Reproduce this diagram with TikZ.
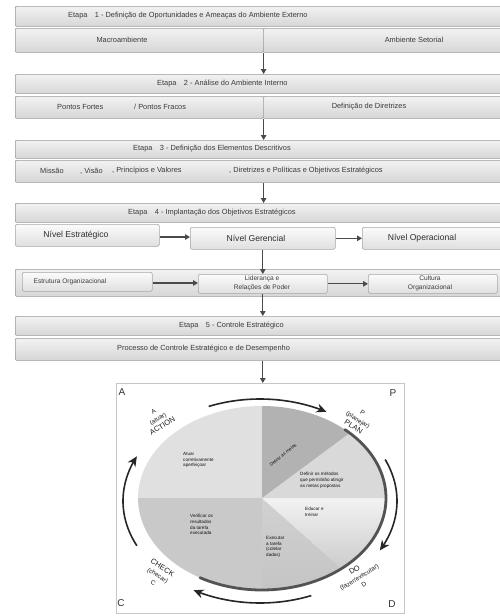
\documentclass[tikz,border=0pt]{standalone}
\usepackage{fontspec}
\setmainfont{Liberation Sans}
\usetikzlibrary{arrows.meta}
\definecolor{txtc}{HTML}{3A3A3A}
\definecolor{arrc}{HTML}{4A4A4A}
\tikzset{
  bar/.style={draw=gray!80, line width=0.6pt, top color=gray!10, bottom color=gray!32, rounded corners=1pt, inner sep=0pt, anchor=north west},
  ibox/.style={draw=gray!70, line width=0.6pt, top color=gray!3, bottom color=gray!25, rounded corners=2pt, inner sep=0pt, anchor=north west},
  txt/.style={font=\fontsize{7.4}{8.5}\selectfont, text=txtc, inner sep=0pt},
  ntxt/.style={font=\fontsize{8.6}{10}\selectfont, text=txtc!80!black, inner sep=0pt},
  stxt/.style={font=\fontsize{6.6}{8.5}\selectfont, text=txtc, inner sep=0pt, align=center},
  arr/.style={draw=arrc, line width=1.3pt, -{Triangle[length=5pt,width=5.5pt]}},
  cyc/.style={draw=gray!30!black, line width=1.6pt, -{Stealth[length=10pt,width=9pt]}},
  pdca/.style={font=\fontsize{10}{10}\selectfont, text=gray!40!black, inner sep=0pt},
  clbl/.style={font=\fontsize{6.3}{8.6}\selectfont, text=gray!25!black, align=center, inner sep=0pt},
  slc/.style={font=\fontsize{4.6}{5.8}\selectfont, text=gray!15!black, align=left, inner sep=0pt, anchor=north west},
}
\begin{document}
\begin{tikzpicture}[x=1pt,y=-1pt]
\useasboundingbox (0,0) rectangle (500,616);
\fill[white] (0,0) rectangle (500,616);
% Stage 1
\node[bar, minimum width=490, minimum height=20] (h1) at (15,6) {};
\node[txt, anchor=west] (t1) at (68,16) {Etapa\quad 1 - Definição de Oportunidades e Ameaças do Ambiente Externo};
\node[bar, minimum width=248, minimum height=24] (r1a) at (15,28) {};
\node[bar, minimum width=242, minimum height=24] (r1b) at (263,28) {};
\node[txt] (t1a) at (122,40) {Macroambiente};
\node[txt] (t1b) at (414,40) {Ambiente Setorial};
\draw[arr] (r1a.south east) -- (r1a.south east |- 0,74);
% Stage 2
\node[bar, minimum width=490, minimum height=19] (h2) at (15,74) {};
\node[txt, anchor=west] (t2) at (157,83.5) {Etapa\quad 2 - Análise do Ambiente Interno};
\node[bar, minimum width=248, minimum height=22] (r2a) at (15,96) {};
\node[bar, minimum width=242, minimum height=22] (r2b) at (263,96) {};
\node[txt, anchor=west] (t2a) at (57,107) {Pontos Fortes};
\node[txt, anchor=west] (t2b) at (134,107) {/ Pontos Fracos};
\node[txt] (t2c) at (369,107) {Definição de Diretrizes};
\draw[arr] (r2a.south east) -- (r2a.south east |- 0,140);
% Stage 3
\node[bar, minimum width=490, minimum height=18] (h3) at (15,140) {};
\node[txt, anchor=west] (t3) at (133,149) {Etapa\quad 3 - Definição dos Elementos Descritivos};
\node[bar, minimum width=490, minimum height=22] (r3) at (15,160) {};
\node[txt, anchor=west] (t3a) at (40,171) {Missão};
\node[txt, anchor=west] (t3b) at (80,171) {, Visão};
\node[txt, anchor=west] (t3c) at (112,171) {, Princípios e Valores};
\node[txt, anchor=west] (t3d) at (229,171) {, Diretrizes e Políticas e Objetivos Estratégicos};
\draw[arr] (r3.south -| r1a.east) -- (r1a.east |- 0,203);
% Stage 4
\node[bar, minimum width=490, minimum height=19] (h4) at (15,203) {};
\node[txt, anchor=west] (t4) at (128,212.5) {Etapa\quad 4 - Implantação dos Objetivos Estratégicos};
\node[ibox, minimum width=144, minimum height=22] (ne) at (15,224) {};
\node[ibox, minimum width=145, minimum height=22] (ng) at (190,227) {};
\node[ibox, minimum width=145, minimum height=22] (no) at (362,227) {};
\node[ntxt] (tne) at (76,235) {Nível Estratégico};
\node[ntxt] (tng) at (256,238) {Nível Gerencial};
\node[ntxt] (tno) at (422,238) {Nível Operacional};
\draw[arr] (ne.east |- 0,237) -- (ng.west |- 0,237);
\draw[arr] (ng.east) -- (no.west);
\node[bar, minimum width=490, minimum height=27] (o4) at (15,269) {};
\node[ibox, minimum width=130, minimum height=19] (eo) at (22,272) {};
\node[ibox, minimum width=129, minimum height=19] (lid) at (198,274) {};
\node[ibox, minimum width=129, minimum height=19] (cult) at (368,274) {};
\node[stxt] (teo) at (70,281.5) {Estrutura Organizacional};
\node[stxt] (tlid) at (262,283.5) {Liderança e\\Relações de Poder};
\node[stxt] (tcult) at (430,283.5) {Cultura\\Organizacional};
\draw[arr] (ng.south -| lid.north) -- (lid.north);
\draw[arr] (eo.east |- 0,283) -- (lid.west |- 0,283);
\draw[arr] (lid.east) -- (cult.west);
% Stage 5
\node[bar, minimum width=490, minimum height=19] (h5) at (15,316) {};
\draw[arr] (lid.south) -- (lid.south |- h5.north);
\node[txt, anchor=west] (t5) at (179,325.5) {Etapa\quad 5 - Controle Estratégico};
\node[bar, minimum width=490, minimum height=22] (r5) at (15,338) {};
\node[txt, anchor=west] (t5a) at (117,349) {Processo de Controle Estratégico e de Desempenho};
% PDCA frame
\node[draw=gray!45, line width=0.6pt, minimum width=288, minimum height=230, inner sep=0pt, anchor=north west] (frame) at (116,383) {};
\draw[arr] (r5.south -| lid.south) -- (frame.north -| lid.south);
% pie
\coordinate (pc) at (262,498);
\fill[fill=gray!24] (pc) -- plot[domain=90:180,samples=40] ({262+124*cos(\x)},{498-92*sin(\x)}) -- cycle;
\fill[fill=gray!42] (pc) -- plot[domain=180:270,samples=40] ({262+124*cos(\x)},{498-92*sin(\x)}) -- cycle;
\shade[top color=gray!36, bottom color=gray!46] (pc) -- plot[domain=270:310,samples=30] ({262+124*cos(\x)},{498-92*sin(\x)}) -- cycle;
\shade[top color=gray!10, bottom color=gray!40] (pc) -- plot[domain=-50:0,samples=30] ({262+124*cos(\x)},{498-92*sin(\x)}) -- cycle;
\fill[fill=gray!30] (pc) -- plot[domain=0:45,samples=30] ({262+124*cos(\x)},{498-92*sin(\x)}) -- cycle;
\fill[fill=gray!60] (pc) -- plot[domain=45:90,samples=30] ({262+124*cos(\x)},{498-92*sin(\x)}) -- cycle;
\draw[line width=2.8pt, draw=gray!65!black, line cap=round] plot[domain=48:-120,samples=80] ({262+124*cos(\x)},{498-92*sin(\x)});
% cycle arrows
\draw[cyc] plot[domain=112:61,samples=40] ({260+137*cos(\x)},{501-102*sin(\x)});
\draw[cyc] plot[domain=24:-29,samples=40] ({260+137*cos(\x)},{501-102*sin(\x)});
\draw[cyc] plot[domain=-68:-119,samples=40] ({260+137*cos(\x)},{501-102*sin(\x)});
\draw[cyc] plot[domain=206:154,samples=40] ({260+137*cos(\x)},{501-102*sin(\x)});
% corner letters
\node[pdca] (la) at (122,392) {A};
\node[pdca] (lp) at (393,393) {P};
\node[pdca] (lc) at (121,603) {C};
\node[pdca] (ld) at (392,604) {D};
% cycle labels
\node[clbl, rotate=32] (ca) at (158,419) {A\\(atuar)\\\fontsize{7.5}{8.6}\selectfont ACTION};
\node[clbl, rotate=-32] (cp) at (358,420) {P\\(planejar)\\\fontsize{7.5}{8.6}\selectfont PLAN};
\node[clbl, rotate=-32] (cc) at (158,575) {\fontsize{7.5}{8.6}\selectfont CHECK\\(checar)\\C};
\node[clbl, rotate=32] (cd) at (359,577) {\fontsize{7.5}{8.6}\selectfont DO\\(fazer/executar)\\D};
% slice texts
\node[slc] (s1) at (183,452) {Atuar\\corretivamente\\aperfeiçoar};
\node[slc] (s2) at (190,514) {Verificar os\\resultados\\da tarefa\\executada};
\node[slc, anchor=center, rotate=40] (s3) at (283,455) {Definir as metas};
\node[slc] (s4) at (300,472) {Definir os métodos\\que permitirão atingir\\as metas propostas};
\node[slc] (s5) at (305,507) {Educar e\\treinar};
\node[slc] (s6) at (266,536) {Executar\\a tarefa\\(coletar\\dados)};
\end{tikzpicture}
\end{document}
